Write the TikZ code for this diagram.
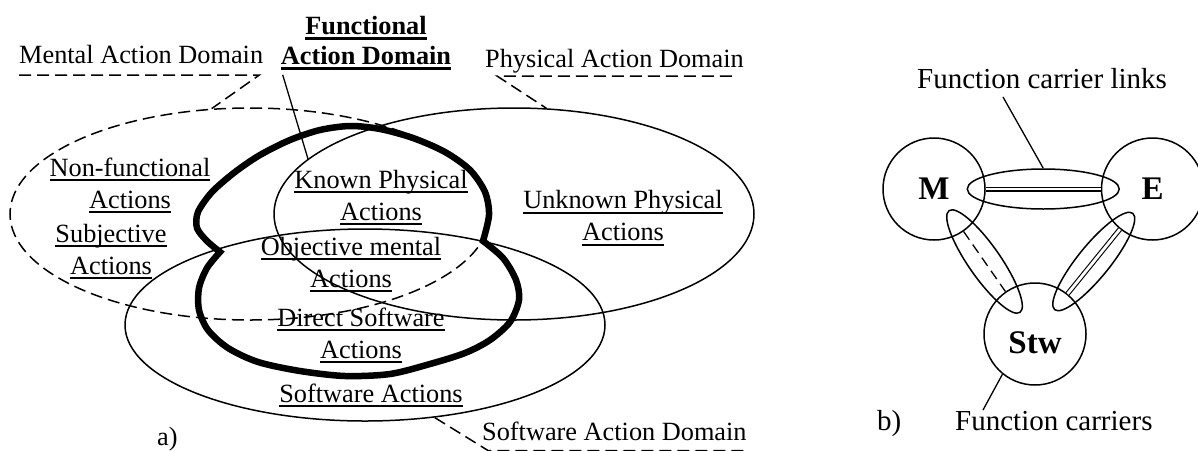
\documentclass[tikz,border=0pt]{standalone}
\usepackage{fontspec}
\setmainfont{Liberation Serif}
\usepackage{tikz}
\usetikzlibrary{positioning, shapes.geometric}
\newcommand{\undl}[2][0.075em]{\setbox0\hbox{#2}\rlap{\rule[-0.19em]{\wd0}{#1}}\box0}

\begin{document}
\begin{tikzpicture}[x=1pt,y=-1pt,
	txt/.style={font=\fontsize{26.3}{32}\selectfont,inner sep=0pt,align=center},
	big/.style={font=\fontsize{29}{34}\selectfont,inner sep=0pt},
	dom/.style={ellipse,draw,line width=1.5pt,inner sep=0pt,minimum width=480pt,minimum height=212pt},
	dsh/.style={line width=1.5pt,dash pattern=on 12pt off 6pt},
	lead/.style={line width=1.3pt},
	func/.style={line width=6.5pt},
	carrier/.style={circle,draw,line width=1.5pt,minimum size=102pt,inner sep=0pt,
		font=\fontsize{33}{36}\selectfont\bfseries},
	link/.style={ellipse,draw,line width=1.5pt,inner sep=0pt,minimum width=124pt,minimum height=32pt}]
	\useasboundingbox (0,0) rectangle (1198,450);
	\node[dom,dsh] (ment) at (250,214) {};
	\node[dom] (phys) at (514,214) {};
	\node[dom,minimum height=192pt] (soft) at (365,325) {};
	\draw[func] plot[smooth] coordinates {(483,241) (489,215) (485,192) (470,170) (445,152)
		(413,138) (380,129) (350,126) (320,130) (290,140) (260,155) (235,172) (212,192)
		(198,212) (197,228) (207,241) (220,252)}
		-- plot[smooth] coordinates {(220,252) (207,268) (199,288) (199,310) (208,330)
		(228,348) (258,362) (300,371) (345,376) (390,374) (430,364) (465,353) (490,340)
		(510,322) (519,300) (516,280) (503,258) (483,241)} -- cycle;
	\node[txt,anchor=base west] (mad) at (19,63) {Mental Action Domain};
	\node[txt,font=\fontsize{26.3}{30}\selectfont\bfseries] (fad) at (366,43)
		{\undl[0.11em]{Functional}\\\undl[0.11em]{Action Domain}};
	\node[txt,anchor=base west] (pad) at (485,67) {Physical Action Domain};
	\node[txt] (nf) at (130,185.5) {\undl{Non-functional}\\\undl{Actions}};
	\node[txt] (sj) at (111,251.5) {\undl{Subjective}\\\undl{Actions}};
	\node[txt] (kp) at (381,197.5) {\undl{Known Physical}\\\undl{Actions}};
	\node[txt] (up) at (623,218) {\undl{Unknown Physical}\\\undl{Actions}};
	\node[txt] (om) at (351,264.5) {\undl{Objective mental}\\\undl{Actions}};
	\node[txt] (ds) at (361,335.5) {\undl{Direct Software}\\\undl{Actions}};
	\node[txt,anchor=base] (sa) at (371,402) {\undl{Software Actions}};
	\node[txt,anchor=base west] (sad) at (482,440) {Software Action Domain};
	\node[txt,anchor=base west] (na) at (157,445) {a)};
	\draw[dsh] ([yshift=-12pt]mad.base west) -- ([yshift=-12pt,xshift=-4pt]mad.base east)
		-- (ment.110);
	\draw[dsh] ([yshift=-9pt,xshift=-12pt]pad.base east) -- ([yshift=-9pt,xshift=12pt]pad.base west)
		-- (phys.73);
	\draw[dsh] (soft.-53) -- ([yshift=-10.5pt,xshift=6pt]sad.base west) -- ([yshift=-10.5pt]sad.base east);
	\draw[lead] ([xshift=2pt,yshift=-5pt]fad.south west) -- (phys.165);
	\node[carrier] (M) at (934,189) {M};
	\node[carrier,right=115pt of M] (E) {E};
	\node[carrier] (Stw) at (1035,334) {\raisebox{-9pt}[\height][\depth]{Stw}};
	\path (M) -- (E) node[midway,sloped,link,minimum width=152pt,minimum height=40pt] (ME) {};
	\foreach \A/\B/\N in {M/Stw/MS,E/Stw/ES}
		{\path (\A) -- (\B) node[midway,sloped,link] (\N) {};}
	\draw[line width=1.1pt,double,double distance=2.8pt] (M) -- (E);
	\draw[line width=1.1pt,double,double distance=2.8pt] (E) -- (Stw);
	\draw[lead,dash pattern=on 10pt off 6pt] (M) -- (Stw);
	\node[big,anchor=base west] (lnk) at (917,88) {Function carrier links};
	\draw[lead] ([xshift=86pt,yshift=-9pt]lnk.base west) -- (ME.north);
	\node[big,anchor=base west] (car) at (955,430) {Function carriers};
	\draw[lead] ([xshift=28pt,yshift=20pt]car.base west) -- (Stw.231);
	\node[big,anchor=base west] (nb) at (877,430) {b)};
\end{tikzpicture}
\end{document}
